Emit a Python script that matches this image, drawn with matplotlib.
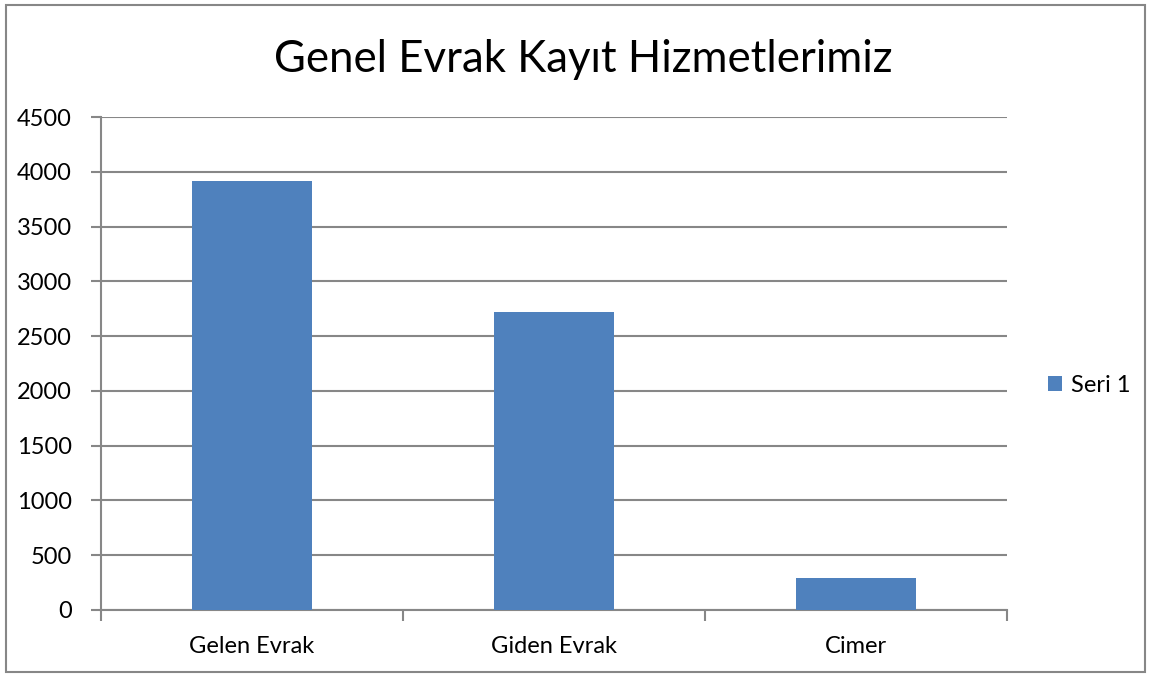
import numpy as np
import matplotlib.pyplot as plt
from matplotlib.patches import Rectangle

categories = ['Gelen Evrak', 'Giden Evrak', 'Cimer']
values = [3920, 2717, 290]
yticks = [0, 500, 1000, 1500, 2000, 2500, 3000, 3500, 4000, 4500]
series_name = 'Seri 1'

plt.rcParams['font.family'] = ['Lato', 'DejaVu Sans']
grid_col = '#878787'
bar_col = '#4f81bd'

fig = plt.figure(figsize=(11.5, 6.78), dpi=100)
fig.patches.append(Rectangle((6 / 1150, 1 - 672 / 678), 1139 / 1150, 667 / 678,
                             transform=fig.transFigure, fill=False,
                             edgecolor=grid_col, lw=1.5))
ax = fig.add_axes([101 / 1150, 1 - 610 / 678, 906 / 1150, 493 / 678])

x = np.arange(len(categories))
ax.bar(x, values, width=0.4, color=bar_col, label=series_name, zorder=3)

ax.set_xlim(-0.5, len(categories) - 0.5)
ax.set_ylim(0, 4500)
ax.set_yticks(yticks)
ax.yaxis.grid(True, color=grid_col, lw=1.5, zorder=0)
ax.set_axisbelow(True)
ax.set_xticks(x)
ax.set_xticklabels(categories)
ax.set_xticks(np.arange(len(categories) + 1) - 0.5, minor=True)
ax.tick_params(axis='x', which='major', length=0, labelsize=17, pad=19)
ax.tick_params(axis='x', which='minor', length=8, width=1.5, color=grid_col)
ax.tick_params(axis='y', length=7, width=1.5, color=grid_col, labelsize=17, pad=14)

for s in ['top', 'right']:
    ax.spines[s].set_visible(False)
for s in ['left', 'bottom']:
    ax.spines[s].set_color(grid_col)
    ax.spines[s].set_linewidth(1.5)

fig.text(0.507, 1 - 60 / 678, 'Genel Evrak Kayıt Hizmetlerimiz', ha='center', va='center',
         fontsize=31.5)
ax.legend(loc='center left', bbox_to_anchor=(1.022, 0.455), frameon=False, fontsize=17,
          handlelength=0.6, handleheight=0.6, handletextpad=0.35)

fig.savefig('out.png', dpi=100)
